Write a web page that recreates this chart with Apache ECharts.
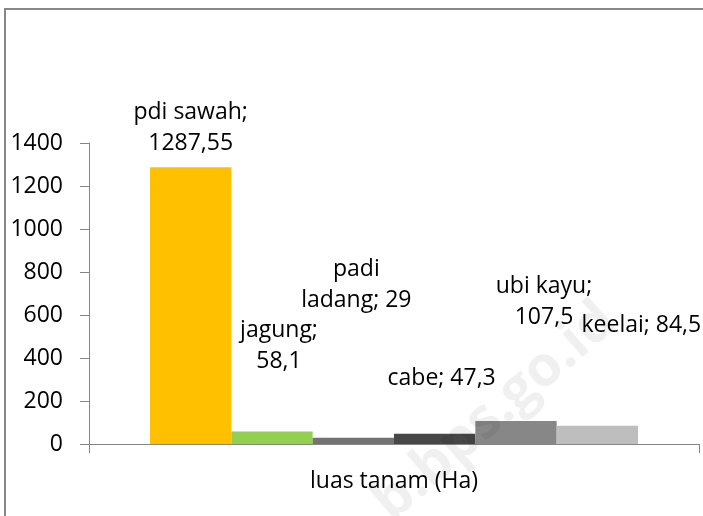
<!DOCTYPE html>
<html>
<head>
<meta charset="utf-8">
<script src="https://cdn.jsdelivr.net/npm/echarts@6/dist/echarts.min.js"></script>
<style>
    html, body { margin: 0; padding: 0; background: #fff; }
    #chart { width: 703px; height: 516px; }
</style>
</head>
<body>
<div id="chart"></div>
<script>
// data
var categories = ['luas tanam (Ha)'];
var seriesNames = ['pdi sawah', 'jagung', 'padi ladang', 'cabe', 'ubi kayu', 'keelai'];
var seriesValues = [1287.55, 58.1, 29, 47.3, 107.5, 84.5];
var seriesColors = ['#FFC000', '#92D050', '#737373', '#474747', '#878787', '#BEBEBE'];
// how each data label wraps: 'value' = break after ';', 'name' = break inside the name, 'none'
var labelWrap = ['value', 'value', 'name', 'none', 'value', 'none'];
// manual label offsets (Excel labels were dragged around)
var labelOffsets = [[0, -3], [7, -50], [3, -117], [7, -35], [28, -83], [44, -80]];
var yTicks = { min: 0, max: 1400, interval: 200 };

var FONT = '"Open Sans", "Noto Sans", sans-serif';

function labelText(i) {
    var name = seriesNames[i];
    var val = String(seriesValues[i]).replace('.', ',');
    if (labelWrap[i] === 'value') return name + ';\n' + val;
    if (labelWrap[i] === 'name') return name.replace(' ', '\n') + '; ' + val;
    return name + '; ' + val;
}

var series = [];
for (var i = 0; i < seriesNames.length; i++) {
    series.push({
        name: seriesNames[i],
        type: 'bar',
        barGap: '0%',
        barCategoryGap: '20%',
        data: [seriesValues[i]],
        itemStyle: { color: seriesColors[i] },
        label: {
            show: true,
            position: 'top',
            distance: 5,
            offset: labelOffsets[i],
            formatter: labelText.bind(null, i),
            fontFamily: FONT,
            fontSize: 23,
            lineHeight: 31,
            color: '#000'
        },
        emphasis: { disabled: true }
    });
}

var option = {
    animation: false,
    backgroundColor: '#fff',
    grid: {
        left: 89,
        right: 4,
        top: 143,
        bottom: 72
    },
    xAxis: {
        type: 'category',
        data: categories,
        axisLine: { lineStyle: { color: '#868686', width: 1 } },
        axisTick: { show: true, length: 9, lineStyle: { color: '#868686' } },
        axisLabel: {
            margin: 26,
            fontFamily: FONT,
            fontSize: 23,
            color: '#000'
        }
    },
    yAxis: {
        type: 'value',
        min: yTicks.min,
        max: yTicks.max,
        interval: yTicks.interval,
        axisLine: { show: true, lineStyle: { color: '#868686', width: 1 } },
        axisTick: { show: true, length: 9, lineStyle: { color: '#868686' } },
        splitLine: { show: false },
        axisLabel: {
            margin: 26,
            formatter: function (v) { return String(v); },
            fontFamily: FONT,
            fontSize: 23,
            color: '#000'
        }
    },
    graphic: [
        {
            type: 'rect',
            shape: { x: 5, y: 9, width: 760, height: 560 },
            style: { fill: 'none', stroke: '#888', lineWidth: 2 },
            silent: true
        },
        {
            type: 'text',
            x: 495,
            y: 412,
            rotation: 41 * Math.PI / 180,
            style: {
                text: 'b.bps.go.id',
                x: 0,
                y: 0,
                align: 'center',
                verticalAlign: 'middle',
                fontFamily: FONT,
                fontSize: 56,
                fontWeight: 'bold',
                fill: 'rgba(0,0,0,0.06)'
            },
            z: 100,
            silent: true
        }
    ],
    series: series
};

var chart = echarts.init(document.getElementById('chart'));
chart.setOption(option);
</script>
</body>
</html>
